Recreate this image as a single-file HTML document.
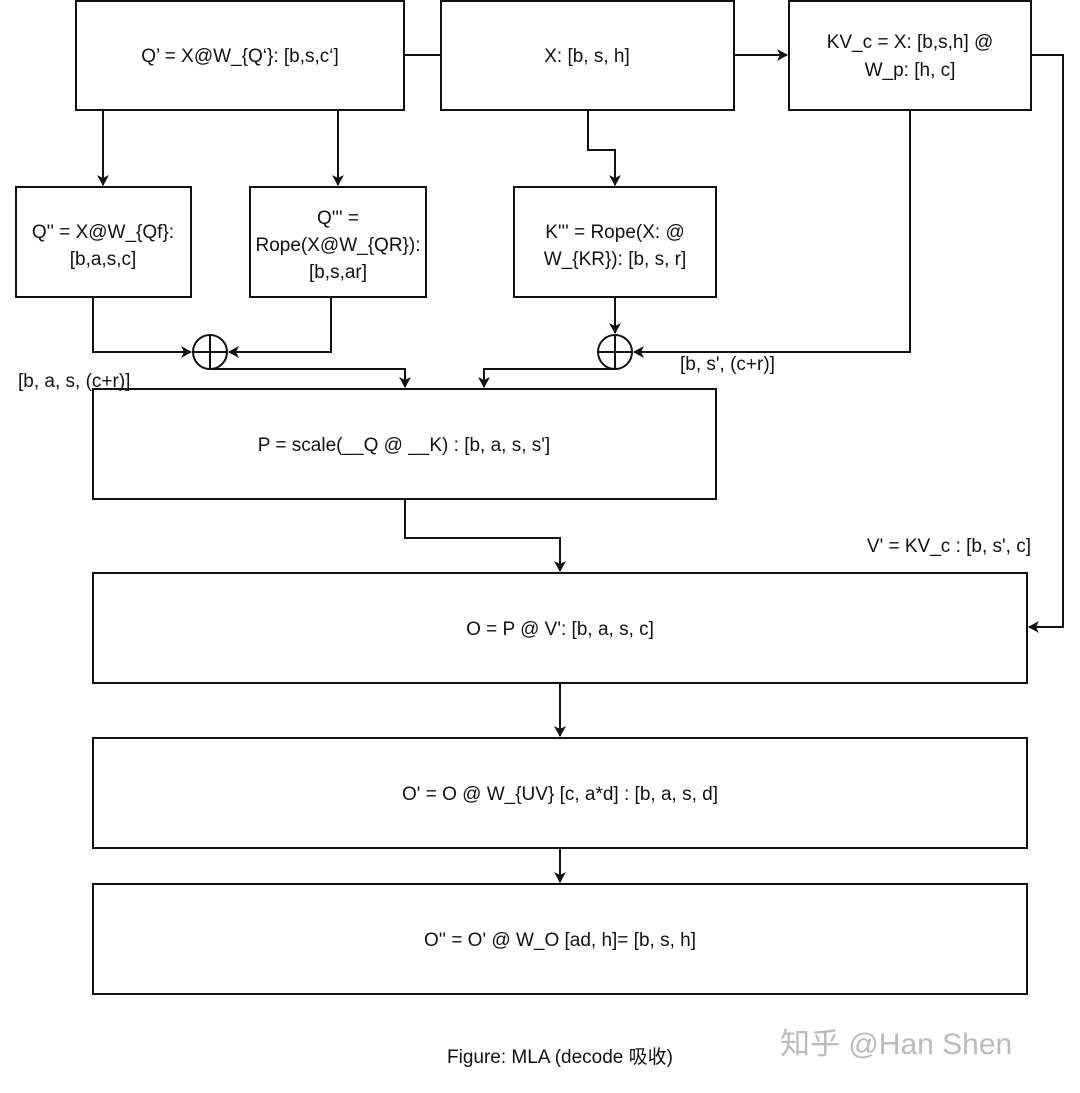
<!DOCTYPE html>
<html><head><meta charset="utf-8"><style>
body{margin:0;background:#fff}
svg text{font-family:"Liberation Sans","Noto Sans CJK SC",sans-serif;font-size:19px;fill:#111}
</style></head><body>
<svg width="1080" height="1088" viewBox="0 0 1080 1088" xmlns="http://www.w3.org/2000/svg">
<defs><marker id="a" markerWidth="12" markerHeight="12" refX="10" refY="6" orient="auto" markerUnits="userSpaceOnUse"><path d="M0,0 L11,6 L0,12 L3,6 Z" fill="#111"/></marker></defs>
<g fill="none" stroke="#111" stroke-width="2">
<rect x="76" y="1" width="328" height="109"/>
<rect x="441" y="1" width="293" height="109"/>
<rect x="789" y="1" width="242" height="109"/>
<rect x="16" y="187" width="175" height="110"/>
<rect x="250" y="187" width="176" height="110"/>
<rect x="514" y="187" width="202" height="110"/>
<rect x="93" y="389" width="623" height="110"/>
<rect x="93" y="573" width="934" height="110"/>
<rect x="93" y="738" width="934" height="110"/>
<rect x="93" y="884" width="934" height="110"/>
<circle cx="210" cy="352" r="17"/><path d="M193,352H227M210,335V369"/>
<circle cx="615" cy="352" r="17"/><path d="M598,352H632M615,335V369"/>
<path d="M404,55H441"/>
<path d="M734,55H787" marker-end="url(#a)"/>
<path d="M1031,55H1063V627H1029" marker-end="url(#a)"/>
<path d="M910,110V352H634" marker-end="url(#a)"/>
<path d="M103,110V185" marker-end="url(#a)"/>
<path d="M338,110V185" marker-end="url(#a)"/>
<path d="M588,110V150H615V185" marker-end="url(#a)"/>
<path d="M93,297V352H191" marker-end="url(#a)"/>
<path d="M331,297V352H229" marker-end="url(#a)"/>
<path d="M615,297V333" marker-end="url(#a)"/>
<path d="M210,369H405V387" marker-end="url(#a)"/>
<path d="M615,369H484V387" marker-end="url(#a)"/>
<path d="M405,499V538H560V571" marker-end="url(#a)"/>
<path d="M560,683V736" marker-end="url(#a)"/>
<path d="M560,848V882" marker-end="url(#a)"/>
</g>
<g text-anchor="middle">
<text x="240" y="62">Q’ = X@W_{Q‘}: [b,s,c‘]</text>
<text x="587" y="62">X: [b, s, h]</text>
<text x="910" y="48">KV_c = X: [b,s,h] @</text>
<text x="910" y="76">W_p: [h, c]</text>
<text x="103" y="238">Q'' = X@W_{Qf}:</text>
<text x="103" y="265">[b,a,s,c]</text>
<text x="338" y="224">Q''' =</text>
<text x="338" y="251">Rope(X@W_{QR}):</text>
<text x="338" y="278">[b,s,ar]</text>
<text x="615" y="238">K''' = Rope(X: @</text>
<text x="615" y="265">W_{KR}): [b, s, r]</text>
<text x="404" y="451">P = scale(__Q @ __K) : [b, a, s, s']</text>
<text x="560" y="635">O = P @ V': [b, a, s, c]</text>
<text x="560" y="800">O' = O @ W_{UV} [c, a*d] : [b, a, s, d]</text>
<text x="560" y="946">O'' = O' @  W_O [ad, h]=  [b, s, h]</text>
<text x="560" y="1063">Figure: MLA (decode 吸收)</text>
</g>
<text x="18" y="387">[b, a, s, (c+r)]</text>
<text x="680" y="370">[b, s', (c+r)]</text>
<text x="1031" y="552" text-anchor="end">V' = KV_c : [b, s', c]</text>
<text x="780" y="1054" style="font-size:30px;fill:#bbb">知乎 @Han Shen</text>
</svg>
</body></html>
